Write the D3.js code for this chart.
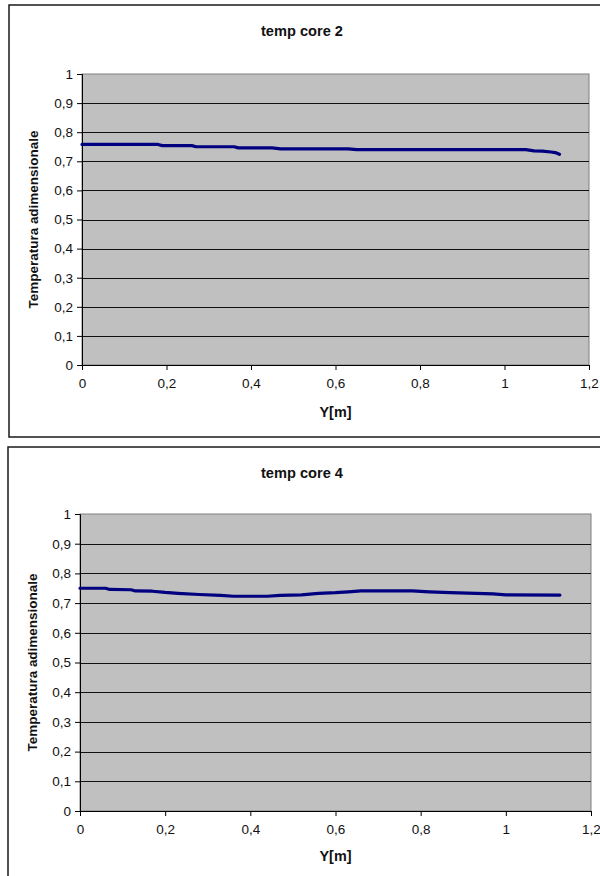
<!DOCTYPE html>
<html>
<head>
<meta charset="utf-8">
<script src="https://cdn.jsdelivr.net/npm/d3@7"></script>
<style>
  html, body { margin: 0; padding: 0; background: #fff; }
  svg { display: block; font-family: "Liberation Sans", Arial, sans-serif; }
</style>
</head>
<body>
<svg id="chart" width="600" height="876"></svg>
<script>
// ---- data ----
const chartTitles = ["temp core 2", "temp core 4"];
const xAxisTitle = "Y[m]";
const yAxisTitle = "Temperatura adimensionale";
const xTickValues = [0, 0.2, 0.4, 0.6, 0.8, 1, 1.2];
const yTickValues = [0, 0.1, 0.2, 0.3, 0.4, 0.5, 0.6, 0.7, 0.8, 0.9, 1];

const core2X = [0, 0.18, 0.19, 0.26, 0.27, 0.36, 0.37, 0.45, 0.47, 0.63, 0.65, 1.05, 1.07, 1.09, 1.11, 1.12, 1.13];
const core2Y = [0.758, 0.758, 0.754, 0.754, 0.750, 0.750, 0.746, 0.746, 0.743, 0.743, 0.740, 0.740, 0.736, 0.735, 0.732, 0.730, 0.724];

const core4X = [0, 0.06, 0.07, 0.12, 0.13, 0.17, 0.20, 0.23, 0.28, 0.33, 0.36, 0.44, 0.47, 0.52, 0.56, 0.60, 0.63, 0.66, 0.78, 0.82, 0.87, 0.93, 0.97, 1.0, 1.127];
const core4Y = [0.750, 0.750, 0.746, 0.745, 0.741, 0.740, 0.736, 0.733, 0.729, 0.726, 0.723, 0.723, 0.726, 0.728, 0.733, 0.735, 0.738, 0.741, 0.741, 0.738, 0.735, 0.733, 0.731, 0.728, 0.727];

const fmt = d => String(d).replace(".", ",");
const svg = d3.select("#chart");
svg.append("rect").attr("width", 600).attr("height", 876).attr("fill", "#fff");

function drawChart(cfg) {
  const g = svg.append("g");
  // outer frame
  g.append("rect")
    .attr("x", cfg.frame.x).attr("y", cfg.frame.y)
    .attr("width", cfg.frame.w).attr("height", cfg.frame.h)
    .attr("fill", "#fff").attr("stroke", "#1a1a1a").attr("stroke-width", 1.5);

  const x = d3.scaleLinear().domain([0, 1.2]).range([cfg.plot.x0, cfg.plot.x1]);
  const y = d3.scaleLinear().domain([0, 1]).range([cfg.plot.y1, cfg.plot.y0]);

  // plot area
  g.append("rect")
    .attr("x", x(0)).attr("y", y(1))
    .attr("width", x(1.2) - x(0)).attr("height", y(0) - y(1))
    .attr("fill", "#c0c0c0").attr("stroke", "#808080").attr("stroke-width", 1);

  // gridlines
  g.append("g").selectAll("line")
    .data(yTickValues.filter(v => v > 0 && v < 1))
    .join("line")
    .attr("x1", x(0)).attr("x2", x(1.2))
    .attr("y1", d => Math.round(y(d)) + 0.5).attr("y2", d => Math.round(y(d)) + 0.5)
    .attr("stroke", "#111").attr("stroke-width", 1.2);

  // y axis
  const yAxis = d3.axisLeft(y).tickValues(yTickValues).tickFormat(fmt).tickSize(5).tickPadding(4);
  const ya = g.append("g").attr("transform", `translate(${x(0)},0)`).call(yAxis);
  ya.select(".domain").attr("stroke", "#000");
  ya.selectAll(".tick line").attr("stroke", "#000");
  ya.selectAll(".tick text").attr("font-size", 13.5).attr("fill", "#111")
    .attr("font-family", "Liberation Sans, Arial, sans-serif");

  // x axis
  const xAxis = d3.axisBottom(x).tickValues(xTickValues).tickFormat(fmt).tickSize(5).tickPadding(8);
  const xa = g.append("g").attr("transform", `translate(0,${y(0)})`).call(xAxis);
  xa.select(".domain").attr("stroke", "#000");
  xa.selectAll(".tick line").attr("stroke", "#000");
  xa.selectAll(".tick text").attr("font-size", 13.5).attr("fill", "#111")
    .attr("font-family", "Liberation Sans, Arial, sans-serif");

  // line
  const pts = cfg.xs.map((v, i) => [v, cfg.ys[i]]);
  g.append("path")
    .datum(pts)
    .attr("fill", "none")
    .attr("stroke", "#000080")
    .attr("stroke-width", 3.2)
    .attr("stroke-linejoin", "round")
    .attr("stroke-linecap", "round")
    .attr("d", d3.line().x(d => x(d[0])).y(d => y(d[1])));

  // title
  g.append("text")
    .attr("x", cfg.titleX).attr("y", cfg.titleY)
    .attr("text-anchor", "middle")
    .attr("font-size", 15).attr("font-weight", "bold").attr("fill", "#111")
    .attr("textLength", 82).attr("lengthAdjust", "spacingAndGlyphs")
    .text(cfg.title);

  // x axis title
  g.append("text")
    .attr("x", (x(0) + x(1.2)) / 2).attr("y", cfg.xTitleY)
    .attr("text-anchor", "middle")
    .attr("font-size", 14).attr("font-weight", "bold").attr("fill", "#111")
    .attr("textLength", 32).attr("lengthAdjust", "spacingAndGlyphs")
    .text(xAxisTitle);

  // y axis title
  const cy = (y(0) + y(1)) / 2;
  g.append("text")
    .attr("transform", `translate(${cfg.yTitleX},${cy}) rotate(-90)`)
    .attr("text-anchor", "middle")
    .attr("font-size", 12).attr("font-weight", "bold").attr("fill", "#111")
    .attr("textLength", 178).attr("lengthAdjust", "spacingAndGlyphs")
    .text(yAxisTitle);
}

drawChart({
  frame: { x: 9, y: 5, w: 620, h: 432 },
  plot: { x0: 82, x1: 589, y0: 74, y1: 365 },
  title: chartTitles[0], titleX: 302, titleY: 36,
  xTitleY: 417, yTitleX: 38,
  xs: core2X, ys: core2Y
});

drawChart({
  frame: { x: 8, y: 447, w: 620, h: 440 },
  plot: { x0: 80, x1: 591, y0: 514, y1: 811 },
  title: chartTitles[1], titleX: 302, titleY: 478,
  xTitleY: 861, yTitleX: 37,
  xs: core4X, ys: core4Y
});
</script>
</body>
</html>
